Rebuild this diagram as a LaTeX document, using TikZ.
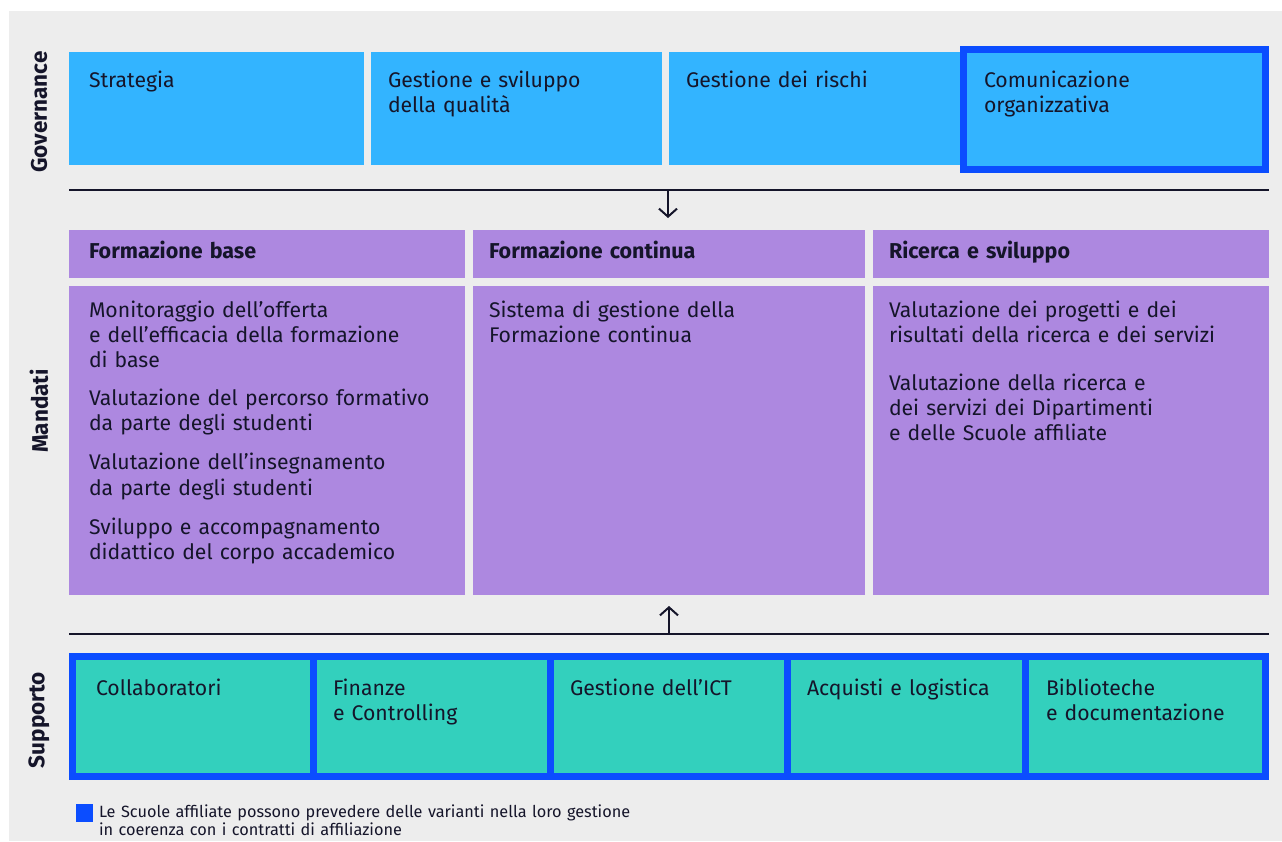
\documentclass[tikz,border=0pt]{standalone}
\usepackage{fontspec}
\setmainfont{Fira Sans}
\usetikzlibrary{arrows.meta}

\definecolor{bggray}{HTML}{EDEDED}
\definecolor{govblue}{HTML}{33B4FF}
\definecolor{affblue}{HTML}{0B4DFF}
\definecolor{mandpurple}{HTML}{AD88E0}
\definecolor{suppteal}{HTML}{33D0BD}
\definecolor{ink}{HTML}{15152A}

\begin{document}
\begin{tikzpicture}[x=1pt,y=-1pt,
  box/.style={anchor=north west, inner sep=0pt, outer sep=0pt, draw=none},
  govbox/.style={box, fill=govblue},
  affbox/.style={box, draw=affblue, line width=7pt},
  mandbox/.style={box, fill=mandpurple},
  suppbox/.style={affbox, fill=suppteal},
  txt/.style={anchor=base west, inner sep=0pt, outer sep=0pt, align=left,
    text width=#1, text=ink, font=\fontsize{21.2}{25.3}\selectfont},
  txt/.default=280pt,
  head/.style={txt=360pt, font=\fontsize{21.5}{25.3}\selectfont\bfseries},
  side/.style={rotate=90, inner sep=0pt, text=ink,
    font=\fontsize{22.5}{25}\selectfont\bfseries},
  rule/.style={line width=2pt, draw=ink},
  flow/.style={line width=2pt, draw=ink, -{Straight Barb[length=8pt,width=18pt]}},
]
% canvas
\useasboundingbox (0,0) rectangle (1282,841);
\fill[white] (0,0) rectangle (1282,841);
\fill[bggray] (9,11) rectangle (1282,841);

% ---- Governance ----
\node[govbox, minimum width=295pt, minimum height=113pt] (strat) at (69,52) {};
\node[govbox, minimum width=291pt, minimum height=113pt] (qual) at (371,52) {};
\node[govbox, minimum width=291pt, minimum height=113pt] (risk) at (669,52) {};
\node[govbox, affbox, fill=govblue, minimum width=302pt, minimum height=120pt] (comm) at (963.5,49.5) {};

\node[txt] (stratT) at (89,87) {Strategia};
\node[txt] (qualT) at (388,87) {Gestione e sviluppo\\della qualità};
\node[txt] (riskT) at (686,87) {Gestione dei rischi};
\node[txt] (commT) at (984,87) {Comunicazione\\organizzativa};

\node[side] (lgov) at (39,112) {Governance};

% rule between governance and mandates
\coordinate (r1w) at (69,190);
\coordinate (r1e) at (1269,190);
\coordinate (r1m) at (668,190);
\coordinate (r1t) at (668,218);
\draw[rule] (r1w) -- (r1e);
\draw[flow] (r1m) -- (r1t);

% ---- Mandati ----
\node[mandbox, minimum width=396pt, minimum height=48pt] (hbase) at (69,230) {};
\node[mandbox, minimum width=392pt, minimum height=48pt] (hcont) at (473,230) {};
\node[mandbox, minimum width=396pt, minimum height=48pt] (hric) at (873,230) {};
\node[mandbox, minimum width=396pt, minimum height=309pt] (bbase) at (69,286) {};
\node[mandbox, minimum width=392pt, minimum height=309pt] (bcont) at (473,286) {};
\node[mandbox, minimum width=396pt, minimum height=309pt] (bric) at (873,286) {};

\node[head] (hbaseT) at (89,258) {Formazione base};
\node[head] (hcontT) at (489,258) {Formazione continua};
\node[head] (hricT) at (889,258) {Ricerca e sviluppo};

\node[txt=370pt] (bbaseT) at (89,317) {Monitoraggio dell’offerta\\
  e dell’efficacia della formazione\\
  di base\\[12.7pt]
  Valutazione del percorso formativo\\
  da parte degli studenti\\[13.7pt]
  Valutazione dell’insegnamento\\
  da parte degli studenti\\[13.7pt]
  Sviluppo e accompagnamento\\
  didattico del corpo accademico};
\node[txt=360pt] (bcontT) at (489,317) {Sistema di gestione della\\Formazione continua};
\node[txt=370pt] (bricT) at (889,317) {Valutazione dei progetti e dei\\
  risultati della ricerca e dei servizi\\[22.7pt]
  Valutazione della ricerca e\\
  dei servizi dei Dipartimenti\\
  e delle Scuole affiliate};

\node[side] (lmand) at (39,411) {Mandati};

% rule between mandates and support
\coordinate (r2w) at (69,634);
\coordinate (r2e) at (1269,634);
\coordinate (r2m) at (669,634);
\coordinate (r2t) at (669,606);
\draw[rule] (r2w) -- (r2e);
\draw[flow] (r2m) -- (r2t);

% ---- Supporto ----
\node[suppbox, minimum width=240.5pt, minimum height=120pt] (coll) at (72.5,656.5) {};
\node[suppbox, minimum width=237.3pt, minimum height=120pt] (fin) at (313,656.5) {};
\node[suppbox, minimum width=237.4pt, minimum height=120pt] (ict) at (550.3,656.5) {};
\node[suppbox, minimum width=237.3pt, minimum height=120pt] (acq) at (787.7,656.5) {};
\node[suppbox, minimum width=240.5pt, minimum height=120pt] (bib) at (1025,656.5) {};

\node[txt=220pt] (collT) at (96,695) {Collaboratori};
\node[txt=210pt] (finT) at (333,695) {Finanze\\e Controlling};
\node[txt=210pt] (ictT) at (570,695) {Gestione dell’ICT};
\node[txt=210pt] (acqT) at (807,695) {Acquisti e logistica};
\node[txt=220pt] (bibT) at (1046,695) {Biblioteche\\e documentazione};

\node[side] (lsupp) at (39,720) {Supporto};

% ---- legend ----
\node[box, fill=affblue, minimum width=17pt, minimum height=18pt] (key) at (76,804) {};
\node[txt=600pt, font=\fontsize{16.3}{18}\selectfont] (keyT) at (99,817)
  {Le Scuole affiliate possono prevedere delle varianti nella loro gestione\\
   in coerenza con i contratti di affiliazione};
\end{tikzpicture}
\end{document}
